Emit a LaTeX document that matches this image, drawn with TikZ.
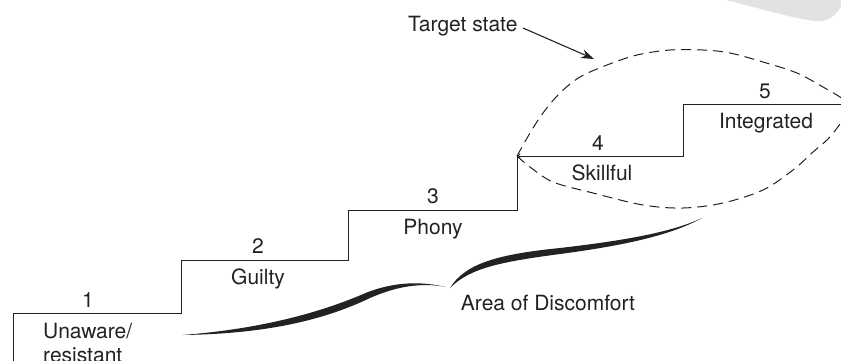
\documentclass[tikz,border=0pt]{standalone}
\usepackage{fontspec}
\setmainfont{TeX Gyre Heros}
\usetikzlibrary{arrows.meta}
\definecolor{ink}{HTML}{222222}
\definecolor{blob}{HTML}{E2E2E2}
\tikzset{
  stairline/.style={draw=ink, line width=1.0pt, line join=miter},
  lens/.style={draw=ink, line width=1.0pt, dash pattern=on 10pt off 6pt},
  lbl/.style={text=ink, font=\fontsize{21}{24}\selectfont, inner sep=0pt, anchor=base},
  pointer/.style={draw=ink, line width=1.1pt, -{Stealth[length=13pt, width=9pt]}},
  swoosh/.style={fill=ink, draw=none}
}
\begin{document}
\begin{tikzpicture}[x=1pt, y=-1pt]
  \useasboundingbox (0,0) rectangle (841,360);
  \clip (0,0) rectangle (841,360);

  % pale shape in the upper right corner
  \fill[blob] (717,-2) .. controls (760,8) and (790,18) .. (815,21)
              .. controls (832,23) and (841,10) .. (844,-2) -- cycle;

  % the staircase
  \draw[stairline] (13,370) -- (13,313.5) -- (181,313.5) -- (181,260)
        -- (348,260) -- (348,210) -- (517,210) -- (517,156)
        -- (683,156) -- (683,104) -- (850,104);
  % small tip at the foot of step four
  \draw[draw=ink, line width=0.8pt, -{To[length=3pt, width=5pt]}] (522,156) -- (517.5,156);

  % target-state lens
  \draw[lens] plot[smooth, tension=0.55] coordinates {
    (517,156) (530,133) (543,113) (560,93) (580,77) (607,65) (637,55)
    (670,50) (703,50) (730,53) (763,62) (797,73) (823,87) (840,97) (852,106)};
  \draw[lens] plot[smooth, tension=0.55] coordinates {
    (517,156) (530,167) (553,182) (593,193) (643,205) (683,208) (723,203)
    (763,190) (793,170) (813,152) (828,139) (840,124) (852,106)};

  % brush strokes marking the area of discomfort
  \fill[swoosh] (182,335) .. controls (260,334) and (320,322) .. (370,298)
        .. controls (395,287) and (420,282) .. (446,287)
        .. controls (420,281) and (395,282) .. (368,292)
        .. controls (320,313) and (260,329) .. (182,335) -- cycle;
  \fill[swoosh] (450,288) .. controls (470,268) and (500,262) .. (560,254)
        .. controls (620,246) and (670,236) .. (702,218)
        .. controls (670,233) and (620,241) .. (560,248)
        .. controls (500,254) and (465,263) .. (450,288) -- cycle;

  % step numbers
  \node[lbl] (n1) at (88,307) {1};
  \node[lbl] (n2) at (258,253) {2};
  \node[lbl] (n3) at (433,203.5) {3};
  \node[lbl] (n4) at (598,150) {4};
  \node[lbl] (n5) at (765,98) {5};

  % step names (the two-line name is anchored on its last baseline)
  \node[lbl, anchor=base west, align=left] (s1) at (43,362) {Unaware/\\resistant};
  \node[lbl] (s2) at (258,284) {Guilty};
  \node[lbl] (s3) at (433,234) {Phony};
  \node[lbl] (s4) at (602,180) {Skillful};
  \node[lbl] (s5) at (766,128) {Integrated};

  \node[lbl] (area) at (548,310) {Area of Discomfort};

  % target state callout
  \node[lbl, anchor=base west] (target) at (408,31) {Target state};
  \coordinate (tA) at (523,28);
  \coordinate (tB) at (594,59);
  \draw[pointer] (tA) -- (tB);
\end{tikzpicture}
\end{document}
